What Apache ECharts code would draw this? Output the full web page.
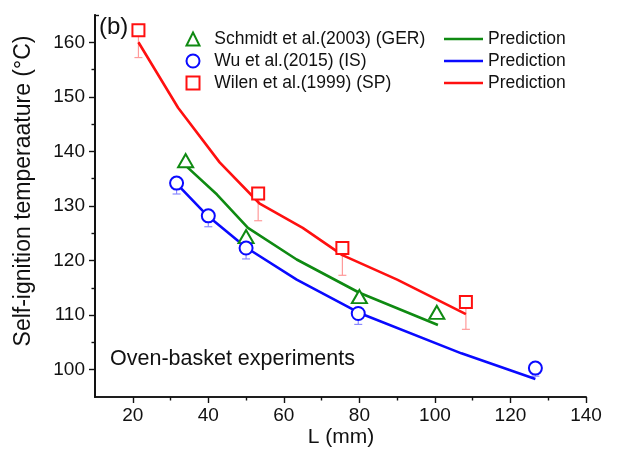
<!DOCTYPE html>
<html><head><meta charset="utf-8">
<script src="https://cdn.jsdelivr.net/npm/echarts@6/dist/echarts.min.js"></script>
<style>html,body{margin:0;padding:0;background:#fff}#c{width:629px;height:456px}</style>
</head><body><div id="c"></div>
<script>
// Experimental data
const schmidtX = [34, 50, 80, 100.5];
const schmidtY = [138.3, 124.4, 113.4, 110.5];
const wuX = [31.6, 40, 50, 79.7, 126.6];
const wuY = [134.2, 128.2, 122.3, 110.3, 100.3];
const wuErr = [2, 2, 2, 2, 1.5];
const wilenX = [21.5, 53.2, 75.5, 108.2];
const wilenY = [162.2, 132.3, 122.3, 112.4];
const wilenErr = [5, 5, 5, 5];
// Predictions
const predGerX = [34, 42.3, 50.5, 63.4, 80, 100.8];
const predGerY = [137.4, 132.1, 126, 120.2, 114.1, 108.2];
const predIsX = [31.6, 39.8, 50, 63.4, 80, 107, 126.6];
const predIsY = [134.1, 128.2, 122.4, 116.5, 110.4, 103, 98.3];
const predSpX = [21.5, 32, 43, 53.5, 65, 75.5, 90, 108.2];
const predSpY = [160, 148, 138, 130.5, 126, 121, 116.5, 110.2];
// Axis ticks
const xMajor = [20, 40, 60, 80, 100, 120, 140];
const xMinor = [30, 50, 70, 90, 110, 130];
const yMajor = [100, 110, 120, 130, 140, 150, 160];
const yMinor = [105, 115, 125, 135, 145, 155];

const names = ['Schmidt et al.(2003) (GER)', 'Wu et al.(2015) (IS)', 'Wilen et al.(1999) (SP)'];
const predNames = ['Prediction GER', 'Prediction IS', 'Prediction SP'];
const GREEN = '#0f8a12', BLUE = '#0a0aff', RED = '#ff1010';
const FONT = 'Liberation Sans, Arial, sans-serif';

const zip = (a, b) => a.map((v, i) => [v, b[i]]);
const zip3 = (a, b, c) => a.map((v, i) => [v, b[i], c[i]]);

function errSeries(data, color) {
  return {
    type: 'custom', z: 1, silent: true,
    renderItem: function (params, api) {
      const p0 = api.coord([api.value(0), api.value(1)]);
      const p1 = api.coord([api.value(0), api.value(1) - api.value(2)]);
      const st = { stroke: color, lineWidth: 1.2 };
      return { type: 'group', children: [
        { type: 'line', shape: { x1: p0[0], y1: p0[1], x2: p1[0], y2: p1[1] }, style: st },
        { type: 'line', shape: { x1: p1[0] - 4, y1: p1[1], x2: p1[0] + 4, y2: p1[1] }, style: st }
      ]};
    },
    data: data
  };
}

const axisCommon = {
  axisLine: { show: true, onZero: false, lineStyle: { color: '#111', width: 1.6 } },
  splitLine: { show: false },
};
const tickStyle = { color: '#111', width: 1.4 };

const chart = echarts.init(document.getElementById('c'));
chart.setOption({
  animation: false,
  backgroundColor: '#fff',
  grid: { left: 95, right: 43, top: 15, bottom: 59 },
  xAxis: [
    Object.assign({}, axisCommon, { type: 'value', min: 10, max: 140,
      axisTick: { show: true, customValues: xMajor, length: 6, lineStyle: tickStyle },
      axisLabel: { customValues: xMajor, color: '#111', fontSize: 19, fontFamily: FONT, margin: 9 } }),
    Object.assign({}, axisCommon, { type: 'value', min: 10, max: 140, position: 'bottom',
      axisTick: { show: true, customValues: xMinor, length: 3.5, lineStyle: tickStyle },
      axisLabel: { show: false } })
  ],
  yAxis: [
    Object.assign({}, axisCommon, { type: 'value', min: 95, max: 165,
      axisTick: { show: true, customValues: yMajor, length: 6, lineStyle: tickStyle },
      axisLabel: { customValues: yMajor, color: '#111', fontSize: 19, fontFamily: FONT, margin: 10 } }),
    Object.assign({}, axisCommon, { type: 'value', min: 95, max: 165, position: 'left',
      axisTick: { show: true, customValues: yMinor, length: 3.5, lineStyle: tickStyle },
      axisLabel: { show: false } }),
    Object.assign({}, axisCommon, { type: 'value', min: 95, max: 165, position: 'left',
      axisTick: { show: true, customValues: [165], length: 4, inside: true, lineStyle: tickStyle },
      axisLabel: { show: false } })
  ],
  legend: [
    { orient: 'vertical', left: 185.5, top: 29, padding: 0, data: names, itemWidth: 13, itemHeight: 13, itemGap: 2,
      formatter: (n) => '  ' + n,
      textStyle: { fontSize: 17.5, fontFamily: FONT, color: '#111', lineHeight: 20 } },
    { orient: 'vertical', left: 444, top: 29, padding: 0, data: predNames, itemWidth: 39, itemHeight: 2.6, itemGap: 2,
      icon: 'rect',
      formatter: () => 'Prediction',
      textStyle: { fontSize: 17.5, fontFamily: FONT, color: '#111', lineHeight: 20 } }
  ],
  graphic: [
    { type: 'text', left: 99, top: 15, style: { text: '(b)', fontSize: 24, fontFamily: FONT, fill: '#111' } },
    { type: 'text', left: 110, top: 348, style: { text: 'Oven-basket experiments', fontSize: 21.5, fontFamily: FONT, fill: '#111' } },
    { type: 'text', x: 341, y: 437, style: { text: 'L (mm)', fontSize: 21, fontFamily: FONT, fill: '#111', align: 'center', verticalAlign: 'middle' } },
    { type: 'text', x: 24, y: 191, rotation: Math.PI / 2, style: { text: 'Self-ignition temperaature (°C)', fontSize: 23, fontFamily: FONT, fill: '#111', align: 'center', verticalAlign: 'middle' } }
  ],
  series: [
    { name: predNames[0], type: 'line', data: zip(predGerX, predGerY), symbol: 'none', z: 2,
      lineStyle: { color: GREEN, width: 2.6 }, itemStyle: { color: GREEN } },
    { name: predNames[1], type: 'line', data: zip(predIsX, predIsY), symbol: 'none', z: 2,
      lineStyle: { color: BLUE, width: 2.6 }, itemStyle: { color: BLUE } },
    { name: predNames[2], type: 'line', data: zip(predSpX, predSpY), symbol: 'none', z: 2,
      lineStyle: { color: RED, width: 2.6 }, itemStyle: { color: RED } },
    errSeries(zip3(wuX, wuY, wuErr), '#8a8aff'),
    errSeries(zip3(wilenX, wilenY, wilenErr), '#ff9a9a'),
    { name: names[0], type: 'scatter', data: zip(schmidtX, schmidtY), symbol: 'emptyTriangle', symbolSize: [15, 13], z: 5,
      itemStyle: { color: GREEN, borderWidth: 1.6, opacity: 1 } },
    { name: names[1], type: 'scatter', data: zip(wuX, wuY), symbol: 'emptyCircle', symbolSize: 13, z: 5,
      itemStyle: { color: BLUE, borderWidth: 1.6, opacity: 1 } },
    { name: names[2], type: 'scatter', data: zip(wilenX, wilenY), symbol: 'emptyRect', symbolSize: 12, z: 5,
      itemStyle: { color: RED, borderWidth: 1.6, opacity: 1 } }
  ]
});
</script></body></html>
